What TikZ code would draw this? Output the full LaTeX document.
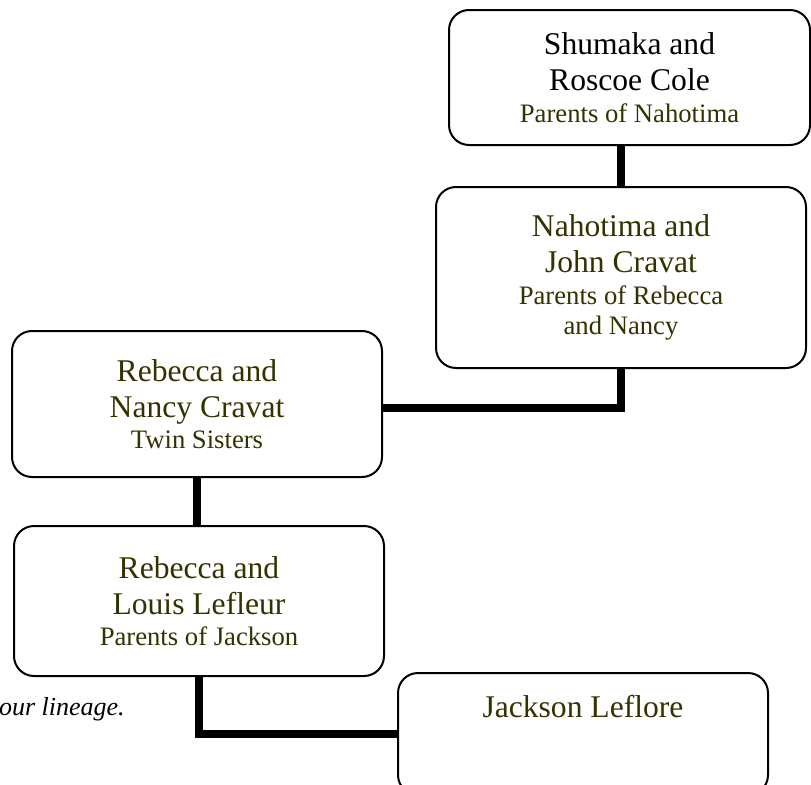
\documentclass[tikz,border=0pt]{standalone}
\usepackage{fontspec}
\setmainfont{Liberation Serif}
\usepackage{tikz}
\usetikzlibrary{positioning}
\definecolor{famolive}{RGB}{51,51,0}
\newcommand{\famsub}{\fontsize{20}{22.5}\selectfont\color{famolive}}
\tikzset{
  famcard/.style={draw=black, fill=white, line width=1.5pt, rounded corners=15pt,
                  minimum width=277.5pt, align=center, inner sep=0pt,
                  text=famolive, font=\fontsize{23.7}{27}\selectfont},
  famhead/.style={inner sep=0pt, text=famolive, font=\fontsize{23.7}{27}\selectfont},
  famlink/.style={draw=black, line width=5.5pt},
  famnote/.style={inner sep=0pt, font=\fontsize{19.5}{22}\selectfont\itshape},
}
\begin{document}
\begin{tikzpicture}[x=0.75pt, y=-0.75pt]
% Family line read from the top right down to the bottom: each card is
% one couple (or the twins), thick elbow lines carry the descent.
\useasboundingbox (0,0) rectangle (811,785);
% cards
\node[famcard, text=black, minimum width=270.75pt, minimum height=101.25pt]
  (shumaka) at (629.5,77.5) {Shumaka and\\Roscoe Cole\\[-3pt]\famsub Parents of Nahotima};
\node[famcard, minimum height=135.75pt] (nahotima) at (621,277.5)
  {Nahotima and\\John Cravat\\[-3pt]\famsub Parents of Rebecca\\[-4.5pt]\famsub and Nancy};
\node[famcard, minimum height=109.5pt] (twins) at (197,404)
  {Rebecca and\\Nancy Cravat\\[-4pt]\famsub Twin Sisters};
\node[famcard, minimum height=112.5pt] (rebecca) at (199,601)
  {Rebecca and\\Louis Lefleur\\[-4pt]\famsub Parents of Jackson};
\node[famcard, minimum height=91.5pt] (jackson) at (583,734) {};
\node[famhead, below=17pt of jackson.north] (jacksonname) {Jackson Leflore};
% links
\draw[famlink] (shumaka.south -| nahotima.north) -- (nahotima.north);
\draw[famlink] (nahotima.south) |- ([yshift=-3pt]twins.east);
\draw[famlink] (twins.south) -- (twins.south |- rebecca.north);
\draw[famlink] (rebecca.south) |- (jackson.west);
% caption cut by the left page edge
\node[famnote, anchor=base east] (lineage) at (125,715) {our lineage.};
\end{tikzpicture}
\end{document}
